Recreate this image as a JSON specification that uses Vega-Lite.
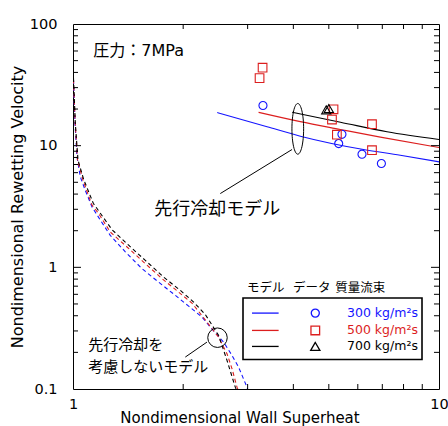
{
  "$schema": "https://vega.github.io/schema/vega-lite/v6.json",
  "width": 366,
  "height": 365,
  "autosize": "none",
  "padding": {"left": 73, "top": 24, "right": 9, "bottom": 37},
  "background": "white",
  "config": {
    "view": {"stroke": null},
    "axis": {"domainColor": "#000", "tickColor": "#000", "domainWidth": 1, "tickWidth": 1, "grid": false, "labelColor": "#000", "titleColor": "#000", "labelFont": "DejaVu Sans", "labelFontSize": 14.5, "titleFont": "DejaVu Sans", "titleFontSize": 15, "titleFontWeight": "normal", "labelOverlap": false, "labelFlush": false}
  },
  "datasets": {
    "pre": [
      {"flux": "300", "x": 2.478, "y": 18.7}, {"flux": "300", "x": 3.39, "y": 14.3}, {"flux": "300", "x": 4.18, "y": 11.97}, {"flux": "300", "x": 6.22, "y": 9.3}, {"flux": "300", "x": 7.84, "y": 8.35}, {"flux": "300", "x": 10, "y": 7.36},
      {"flux": "500", "x": 3.214, "y": 18.8}, {"flux": "500", "x": 4.18, "y": 15.76}, {"flux": "500", "x": 5.375, "y": 13.59}, {"flux": "500", "x": 6.915, "y": 11.75}, {"flux": "500", "x": 10, "y": 9.66},
      {"flux": "700", "x": 3.97, "y": 18.8}, {"flux": "700", "x": 5.38, "y": 15.6}, {"flux": "700", "x": 7.21, "y": 13.0}, {"flux": "700", "x": 10, "y": 11.25}
    ],
    "nopre": [
      {"flux": "300", "x": 1.003, "y": 34.6}, {"flux": "300", "x": 1.0127, "y": 15.2}, {"flux": "300", "x": 1.0255, "y": 8.09}, {"flux": "300", "x": 1.047, "y": 5.54}, {"flux": "300", "x": 1.08, "y": 4.3}, {"flux": "300", "x": 1.127, "y": 3.14}, {"flux": "300", "x": 1.188, "y": 2.44}, {"flux": "300", "x": 1.264, "y": 1.83}, {"flux": "300", "x": 1.39, "y": 1.34}, {"flux": "300", "x": 1.543, "y": 0.976}, {"flux": "300", "x": 1.713, "y": 0.757}, {"flux": "300", "x": 1.904, "y": 0.588}, {"flux": "300", "x": 2.07, "y": 0.48}, {"flux": "300", "x": 2.252, "y": 0.39}, {"flux": "300", "x": 2.372, "y": 0.323}, {"flux": "300", "x": 2.579, "y": 0.243}, {"flux": "300", "x": 2.719, "y": 0.189}, {"flux": "300", "x": 2.835, "y": 0.151}, {"flux": "300", "x": 2.988, "y": 0.1035}, {"flux": "300", "x": 3.0, "y": 0.1},
      {"flux": "500", "x": 1.003, "y": 35}, {"flux": "500", "x": 1.014, "y": 15.3}, {"flux": "500", "x": 1.029, "y": 7.6}, {"flux": "500", "x": 1.065, "y": 5.2}, {"flux": "500", "x": 1.127, "y": 3.24}, {"flux": "500", "x": 1.175, "y": 2.77}, {"flux": "500", "x": 1.264, "y": 1.95}, {"flux": "500", "x": 1.405, "y": 1.47}, {"flux": "500", "x": 1.559, "y": 1.105}, {"flux": "500", "x": 1.751, "y": 0.807}, {"flux": "500", "x": 1.943, "y": 0.626}, {"flux": "500", "x": 2.114, "y": 0.508}, {"flux": "500", "x": 2.252, "y": 0.4}, {"flux": "500", "x": 2.499, "y": 0.267}, {"flux": "500", "x": 2.635, "y": 0.195}, {"flux": "500", "x": 2.719, "y": 0.147}, {"flux": "500", "x": 2.806, "y": 0.1035}, {"flux": "500", "x": 2.82, "y": 0.1},
      {"flux": "700", "x": 1.003, "y": 36}, {"flux": "700", "x": 1.0146, "y": 15.3}, {"flux": "700", "x": 1.032, "y": 7.6}, {"flux": "700", "x": 1.069, "y": 5.3}, {"flux": "700", "x": 1.136, "y": 3.36}, {"flux": "700", "x": 1.278, "y": 2.04}, {"flux": "700", "x": 1.419, "y": 1.52}, {"flux": "700", "x": 1.576, "y": 1.14}, {"flux": "700", "x": 1.768, "y": 0.832}, {"flux": "700", "x": 1.964, "y": 0.647}, {"flux": "700", "x": 2.136, "y": 0.518}, {"flux": "700", "x": 2.298, "y": 0.41}, {"flux": "700", "x": 2.499, "y": 0.276}, {"flux": "700", "x": 2.635, "y": 0.172}, {"flux": "700", "x": 2.776, "y": 0.1035}, {"flux": "700", "x": 2.79, "y": 0.1}
    ],
    "obs": [
      {"flux": "300", "x": 3.304, "y": 21.4}, {"flux": "300", "x": 5.43, "y": 12.4}, {"flux": "300", "x": 5.32, "y": 10.4}, {"flux": "300", "x": 6.16, "y": 8.51}, {"flux": "300", "x": 6.96, "y": 7.14},
      {"flux": "500", "x": 3.296, "y": 43.7}, {"flux": "500", "x": 3.234, "y": 35.9}, {"flux": "500", "x": 5.15, "y": 19.9}, {"flux": "500", "x": 5.1, "y": 16.4}, {"flux": "500", "x": 5.26, "y": 12.3}, {"flux": "500", "x": 6.56, "y": 15.0}, {"flux": "500", "x": 6.56, "y": 9.18},
      {"flux": "700", "x": 4.92, "y": 19.7}, {"flux": "700", "x": 5.0, "y": 20.2}
    ],
    "leg": [
      {"flux": "300", "label": "300 kg/m²s", "y": 0.4206, "xl1": 3.084, "xl2": 3.646, "xm": 4.592, "xt": 5.607},
      {"flux": "500", "label": "500 kg/m²s", "y": 0.303, "xl1": 3.084, "xl2": 3.646, "xm": 4.592, "xt": 5.607},
      {"flux": "700", "label": "700 kg/m²s", "y": 0.2238, "xl1": 3.084, "xl2": 3.646, "xm": 4.592, "xt": 5.607}
    ],
    "tv": [
      {"x": 2, "y": 0.1, "y2": 0.1099}, {"x": 3, "y": 0.1, "y2": 0.1099}, {"x": 4, "y": 0.1, "y2": 0.1099}, {"x": 5, "y": 0.1, "y2": 0.1099}, {"x": 6, "y": 0.1, "y2": 0.1099}, {"x": 7, "y": 0.1, "y2": 0.1099}, {"x": 8, "y": 0.1, "y2": 0.1099}, {"x": 9, "y": 0.1, "y2": 0.1099},
      {"x": 2, "y": 100, "y2": 90.96}, {"x": 3, "y": 100, "y2": 90.96}, {"x": 4, "y": 100, "y2": 90.96}, {"x": 5, "y": 100, "y2": 90.96}, {"x": 6, "y": 100, "y2": 90.96}, {"x": 7, "y": 100, "y2": 90.96}, {"x": 8, "y": 100, "y2": 90.96}, {"x": 9, "y": 100, "y2": 90.96}
    ],
    "th": [
      {"y": 0.2, "x": 1, "x2": 1.032}, {"y": 0.3, "x": 1, "x2": 1.032}, {"y": 0.4, "x": 1, "x2": 1.032}, {"y": 0.5, "x": 1, "x2": 1.032}, {"y": 0.6, "x": 1, "x2": 1.032}, {"y": 0.7, "x": 1, "x2": 1.032}, {"y": 0.8, "x": 1, "x2": 1.032}, {"y": 0.9, "x": 1, "x2": 1.032},
      {"y": 2, "x": 1, "x2": 1.032}, {"y": 3, "x": 1, "x2": 1.032}, {"y": 4, "x": 1, "x2": 1.032}, {"y": 5, "x": 1, "x2": 1.032}, {"y": 6, "x": 1, "x2": 1.032}, {"y": 7, "x": 1, "x2": 1.032}, {"y": 8, "x": 1, "x2": 1.032}, {"y": 9, "x": 1, "x2": 1.032},
      {"y": 20, "x": 1, "x2": 1.032}, {"y": 30, "x": 1, "x2": 1.032}, {"y": 40, "x": 1, "x2": 1.032}, {"y": 50, "x": 1, "x2": 1.032}, {"y": 60, "x": 1, "x2": 1.032}, {"y": 70, "x": 1, "x2": 1.032}, {"y": 80, "x": 1, "x2": 1.032}, {"y": 90, "x": 1, "x2": 1.032},
      {"y": 0.2, "x": 10, "x2": 9.69}, {"y": 0.3, "x": 10, "x2": 9.69}, {"y": 0.4, "x": 10, "x2": 9.69}, {"y": 0.5, "x": 10, "x2": 9.69}, {"y": 0.6, "x": 10, "x2": 9.69}, {"y": 0.7, "x": 10, "x2": 9.69}, {"y": 0.8, "x": 10, "x2": 9.69}, {"y": 0.9, "x": 10, "x2": 9.69},
      {"y": 2, "x": 10, "x2": 9.69}, {"y": 3, "x": 10, "x2": 9.69}, {"y": 4, "x": 10, "x2": 9.69}, {"y": 5, "x": 10, "x2": 9.69}, {"y": 6, "x": 10, "x2": 9.69}, {"y": 7, "x": 10, "x2": 9.69}, {"y": 8, "x": 10, "x2": 9.69}, {"y": 9, "x": 10, "x2": 9.69},
      {"y": 20, "x": 10, "x2": 9.69}, {"y": 30, "x": 10, "x2": 9.69}, {"y": 40, "x": 10, "x2": 9.69}, {"y": 50, "x": 10, "x2": 9.69}, {"y": 60, "x": 10, "x2": 9.69}, {"y": 70, "x": 10, "x2": 9.69}, {"y": 80, "x": 10, "x2": 9.69}, {"y": 90, "x": 10, "x2": 9.69},
      {"y": 1, "x": 1, "x2": 1.0516}, {"y": 10, "x": 1, "x2": 1.0516}, {"y": 1, "x": 10, "x2": 9.509}, {"y": 10, "x": 10, "x2": 9.509}
    ]
  },
  "layer": [
    {
      "data": {"name": "pre"},
      "mark": {"type": "line", "strokeWidth": 1.1, "interpolate": "monotone", "clip": true},
      "encoding": {
        "x": {"field": "x", "type": "quantitative", "scale": {"type": "log", "domain": [1, 10], "nice": false},
          "axis": {"orient": "bottom", "values": [1, 10], "format": "~g", "ticks": false, "tickSize": 0, "labelPadding": 8, "title": "Nondimensional Wall Superheat", "titleX": 166.5, "titleY": 33.8, "titleAlign": "center", "titleBaseline": "alphabetic"}},
        "y": {"field": "y", "type": "quantitative", "scale": {"type": "log", "domain": [0.1, 100], "nice": false},
          "axis": {"orient": "left", "values": [0.1, 1, 10, 100], "format": "~g", "ticks": false, "tickSize": 0, "labelPadding": 16, "title": "Nondimensional Rewetting Velocity", "titleFontSize": 16, "titlePadding": 4}},
        "color": {"field": "flux", "type": "nominal", "scale": {"domain": ["300", "500", "700"], "range": ["#1414ff", "#dc1e1e", "#000000"]}, "legend": null}
      }
    },
    {
      "data": {"name": "nopre"},
      "mark": {"type": "line", "strokeWidth": 1.1, "strokeDash": [4, 3], "clip": true},
      "encoding": {
        "x": {"field": "x", "type": "quantitative", "scale": {"type": "log", "domain": [1, 10], "nice": false},
          "axis": {"orient": "top", "values": [1, 10], "labels": false, "ticks": false, "title": null}},
        "y": {"field": "y", "type": "quantitative", "scale": {"type": "log", "domain": [0.1, 100], "nice": false},
          "axis": {"orient": "right", "values": [0.1, 100], "labels": false, "ticks": false, "title": null}},
        "color": {"field": "flux", "type": "nominal", "scale": {"domain": ["300", "500", "700"], "range": ["#1414ff", "#dc1e1e", "#000000"]}, "legend": null}
      }
    },
    {
      "data": {"name": "tv"},
      "mark": {"type": "rule", "color": "#000", "strokeWidth": 1},
      "encoding": {
        "x": {"field": "x", "type": "quantitative", "scale": {"type": "log", "domain": [1, 10], "nice": false}, "axis": null},
        "y": {"field": "y", "type": "quantitative", "scale": {"type": "log", "domain": [0.1, 100], "nice": false}, "axis": null},
        "y2": {"field": "y2"}
      }
    },
    {
      "data": {"name": "th"},
      "mark": {"type": "rule", "color": "#000", "strokeWidth": 1},
      "encoding": {
        "x": {"field": "x", "type": "quantitative", "scale": {"type": "log", "domain": [1, 10], "nice": false}, "axis": null},
        "x2": {"field": "x2"},
        "y": {"field": "y", "type": "quantitative", "scale": {"type": "log", "domain": [0.1, 100], "nice": false}, "axis": null}
      }
    },
    {
      "data": {"name": "obs"},
      "mark": {"type": "point", "filled": false, "strokeWidth": 1.1, "opacity": 1, "clip": true},
      "encoding": {
        "x": {"field": "x", "type": "quantitative", "scale": {"type": "log", "domain": [1, 10], "nice": false}, "axis": null},
        "y": {"field": "y", "type": "quantitative", "scale": {"type": "log", "domain": [0.1, 100], "nice": false}, "axis": null},
        "color": {"field": "flux", "type": "nominal", "scale": {"domain": ["300", "500", "700"], "range": ["#1414ff", "#dc1e1e", "#000000"]}, "legend": null},
        "shape": {"field": "flux", "type": "nominal", "scale": {"domain": ["300", "500", "700"], "range": ["circle", "square", "triangle-up"]}, "legend": null},
        "size": {"field": "flux", "type": "nominal", "scale": {"domain": ["300", "500", "700"], "range": [65, 85, 130]}, "legend": null}
      }
    },
    {
      "data": {"values": [{"x": 4.113, "y": 13.75}]},
      "mark": {"type": "point", "filled": false, "stroke": "#000", "strokeWidth": 1, "opacity": 1, "size": 2570, "shape": "M0,-1A0.231,1 0 1,1 0,1A0.231,1 0 1,1 0,-1Z"},
      "encoding": {
        "x": {"field": "x", "type": "quantitative", "scale": {"type": "log", "domain": [1, 10], "nice": false}, "axis": null},
        "y": {"field": "y", "type": "quantitative", "scale": {"type": "log", "domain": [0.1, 100], "nice": false}, "axis": null}
      }
    },
    {
      "data": {"values": [{"x": 2.482, "y": 0.264}]},
      "mark": {"type": "point", "filled": false, "stroke": "#000", "strokeWidth": 1, "opacity": 1, "size": 380, "shape": "circle"},
      "encoding": {
        "x": {"field": "x", "type": "quantitative", "scale": {"type": "log", "domain": [1, 10], "nice": false}, "axis": null},
        "y": {"field": "y", "type": "quantitative", "scale": {"type": "log", "domain": [0.1, 100], "nice": false}, "axis": null}
      }
    },
    {
      "data": {"values": [{"x": 2.526, "y": 4.04, "x2": 3.967, "y2": 9.3}, {"x": 2.027, "y": 0.183, "x2": 2.323, "y2": 0.243}]},
      "mark": {"type": "rule", "color": "#000", "strokeWidth": 1},
      "encoding": {
        "x": {"field": "x", "type": "quantitative", "scale": {"type": "log", "domain": [1, 10], "nice": false}, "axis": null},
        "y": {"field": "y", "type": "quantitative", "scale": {"type": "log", "domain": [0.1, 100], "nice": false}, "axis": null},
        "x2": {"field": "x2"},
        "y2": {"field": "y2"}
      }
    },
    {
      "data": {"values": [{"x": 1.136, "y": 59.9, "t": "圧力：7MPa"}]},
      "mark": {"type": "text", "align": "left", "baseline": "middle", "font": "DejaVu Sans, Noto Sans CJK JP", "fontSize": 16, "color": "#000"},
      "encoding": {
        "x": {"field": "x", "type": "quantitative", "scale": {"type": "log", "domain": [1, 10], "nice": false}, "axis": null},
        "y": {"field": "y", "type": "quantitative", "scale": {"type": "log", "domain": [0.1, 100], "nice": false}, "axis": null},
        "text": {"field": "t"}
      }
    },
    {
      "data": {"values": [{"x": 2.478, "y": 2.94, "t": "先行冷却モデル"}]},
      "mark": {"type": "text", "align": "center", "baseline": "middle", "font": "Noto Sans CJK JP", "fontSize": 18, "color": "#000"},
      "encoding": {
        "x": {"field": "x", "type": "quantitative", "scale": {"type": "log", "domain": [1, 10], "nice": false}, "axis": null},
        "y": {"field": "y", "type": "quantitative", "scale": {"type": "log", "domain": [0.1, 100], "nice": false}, "axis": null},
        "text": {"field": "t"}
      }
    },
    {
      "data": {"values": [{"x": 1.101, "y": 0.228, "t": "先行冷却を"}, {"x": 1.101, "y": 0.153, "t": "考慮しないモデル"}]},
      "mark": {"type": "text", "align": "left", "baseline": "middle", "font": "Noto Sans CJK JP", "fontSize": 15, "color": "#000"},
      "encoding": {
        "x": {"field": "x", "type": "quantitative", "scale": {"type": "log", "domain": [1, 10], "nice": false}, "axis": null},
        "y": {"field": "y", "type": "quantitative", "scale": {"type": "log", "domain": [0.1, 100], "nice": false}, "axis": null},
        "text": {"field": "t"}
      }
    },
    {
      "data": {"values": [{"x": 2.988, "y": 0.681, "t": "モデル"}, {"x": 3.99, "y": 0.681, "t": "データ"}, {"x": 5.21, "y": 0.681, "t": "質量流束"}]},
      "mark": {"type": "text", "align": "left", "baseline": "middle", "font": "Noto Sans CJK JP", "fontSize": 12.5, "color": "#000"},
      "encoding": {
        "x": {"field": "x", "type": "quantitative", "scale": {"type": "log", "domain": [1, 10], "nice": false}, "axis": null},
        "y": {"field": "y", "type": "quantitative", "scale": {"type": "log", "domain": [0.1, 100], "nice": false}, "axis": null},
        "text": {"field": "t"}
      }
    },
    {
      "data": {"values": [{"x": 2.914, "x2": 8.986, "y": 0.559, "y2": 0.175}]},
      "mark": {"type": "rect", "fill": "white", "stroke": "#000", "strokeWidth": 1.6},
      "encoding": {
        "x": {"field": "x", "type": "quantitative", "scale": {"type": "log", "domain": [1, 10], "nice": false}, "axis": null},
        "y": {"field": "y", "type": "quantitative", "scale": {"type": "log", "domain": [0.1, 100], "nice": false}, "axis": null},
        "x2": {"field": "x2"},
        "y2": {"field": "y2"}
      }
    },
    {
      "data": {"name": "leg"},
      "mark": {"type": "rule", "strokeWidth": 1.3},
      "encoding": {
        "x": {"field": "xl1", "type": "quantitative", "scale": {"type": "log", "domain": [1, 10], "nice": false}, "axis": null},
        "x2": {"field": "xl2"},
        "y": {"field": "y", "type": "quantitative", "scale": {"type": "log", "domain": [0.1, 100], "nice": false}, "axis": null},
        "color": {"field": "flux", "type": "nominal", "scale": {"domain": ["300", "500", "700"], "range": ["#1414ff", "#dc1e1e", "#000000"]}, "legend": null}
      }
    },
    {
      "data": {"name": "leg"},
      "mark": {"type": "point", "filled": false, "strokeWidth": 1.3, "opacity": 1},
      "encoding": {
        "x": {"field": "xm", "type": "quantitative", "scale": {"type": "log", "domain": [1, 10], "nice": false}, "axis": null},
        "y": {"field": "y", "type": "quantitative", "scale": {"type": "log", "domain": [0.1, 100], "nice": false}, "axis": null},
        "color": {"field": "flux", "type": "nominal", "scale": {"domain": ["300", "500", "700"], "range": ["#1414ff", "#dc1e1e", "#000000"]}, "legend": null},
        "shape": {"field": "flux", "type": "nominal", "scale": {"domain": ["300", "500", "700"], "range": ["circle", "square", "triangle-up"]}, "legend": null},
        "size": {"field": "flux", "type": "nominal", "scale": {"domain": ["300", "500", "700"], "range": [65, 60, 150]}, "legend": null}
      }
    },
    {
      "data": {"name": "leg"},
      "mark": {"type": "text", "align": "left", "baseline": "middle", "font": "DejaVu Sans", "fontSize": 12.5},
      "encoding": {
        "x": {"field": "xt", "type": "quantitative", "scale": {"type": "log", "domain": [1, 10], "nice": false}, "axis": null},
        "y": {"field": "y", "type": "quantitative", "scale": {"type": "log", "domain": [0.1, 100], "nice": false}, "axis": null},
        "text": {"field": "label"},
        "color": {"field": "flux", "type": "nominal", "scale": {"domain": ["300", "500", "700"], "range": ["#1414ff", "#dc1e1e", "#000000"]}, "legend": null}
      }
    }
  ],
  "resolve": {"axis": {"x": "independent", "y": "independent"}}
}
